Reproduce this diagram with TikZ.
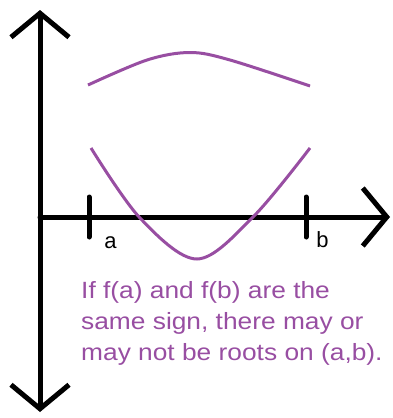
\documentclass[tikz,border=0pt]{standalone}
\usepackage{fontspec}
\setmainfont{Liberation Sans}
\newfontfamily\notefont[FakeStretch=1.12]{Liberation Sans}
\usetikzlibrary{arrows.meta, positioning, calc}
\definecolor{CurvePurple}{RGB}{152,78,162}

\begin{document}
\begin{tikzpicture}[x=1pt,y=-1pt,
        >={Straight Barb[length=24pt,width=58pt,line width=5pt]},
        axis/.style={line width=5pt,black,line cap=round},
        tick/.style={line width=5pt,black,line cap=round},
        curve/.style={CurvePurple,line width=3pt},
        lbl/.style={font=\fontsize{22}{22}\selectfont,inner sep=0pt}
      ]
        \useasboundingbox (0,0) rectangle (393,418);
        % axes
        \coordinate (ytop) at (40,10);
        \coordinate (ybot) at (40,412);
        \coordinate (orig) at (40,217);
        \coordinate (xend) at (390,217);
        \draw[axis,<->] (ybot) -- (ytop);
        \draw[axis,->] (orig) -- (xend);
        % ticks
        \coordinate (ta) at (89,217);
        \coordinate (tb) at (306,217);
        \draw[tick] ($(ta)+(0,-20)$) -- ($(ta)+(0,20)$);
        \draw[tick] ($(tb)+(0,-20)$) -- ($(tb)+(0,20)$);
        \node[lbl,anchor=base] (la) at (110.5,248) {a};
        \node[lbl,anchor=base] (lb) at (322.5,247) {b};
        % curves
        \draw[curve] plot[smooth,tension=0.55] coordinates
          {(88,85) (147,60) (190,52.5) (230,60) (310,86)};
        \draw[curve] plot[smooth,tension=0.55] coordinates
          {(91,148) (140,218) (197,259) (253,217) (310,148)};
        % note
        \node[lbl,CurvePurple,align=left,anchor=base west,
              font=\notefont\fontsize{23.5}{31}\selectfont] (note) at (81,360)
          {If f(a) and f(b) are the\\same sign, there may or\\may not be roots on (a,b).};
\end{tikzpicture}
\end{document}
